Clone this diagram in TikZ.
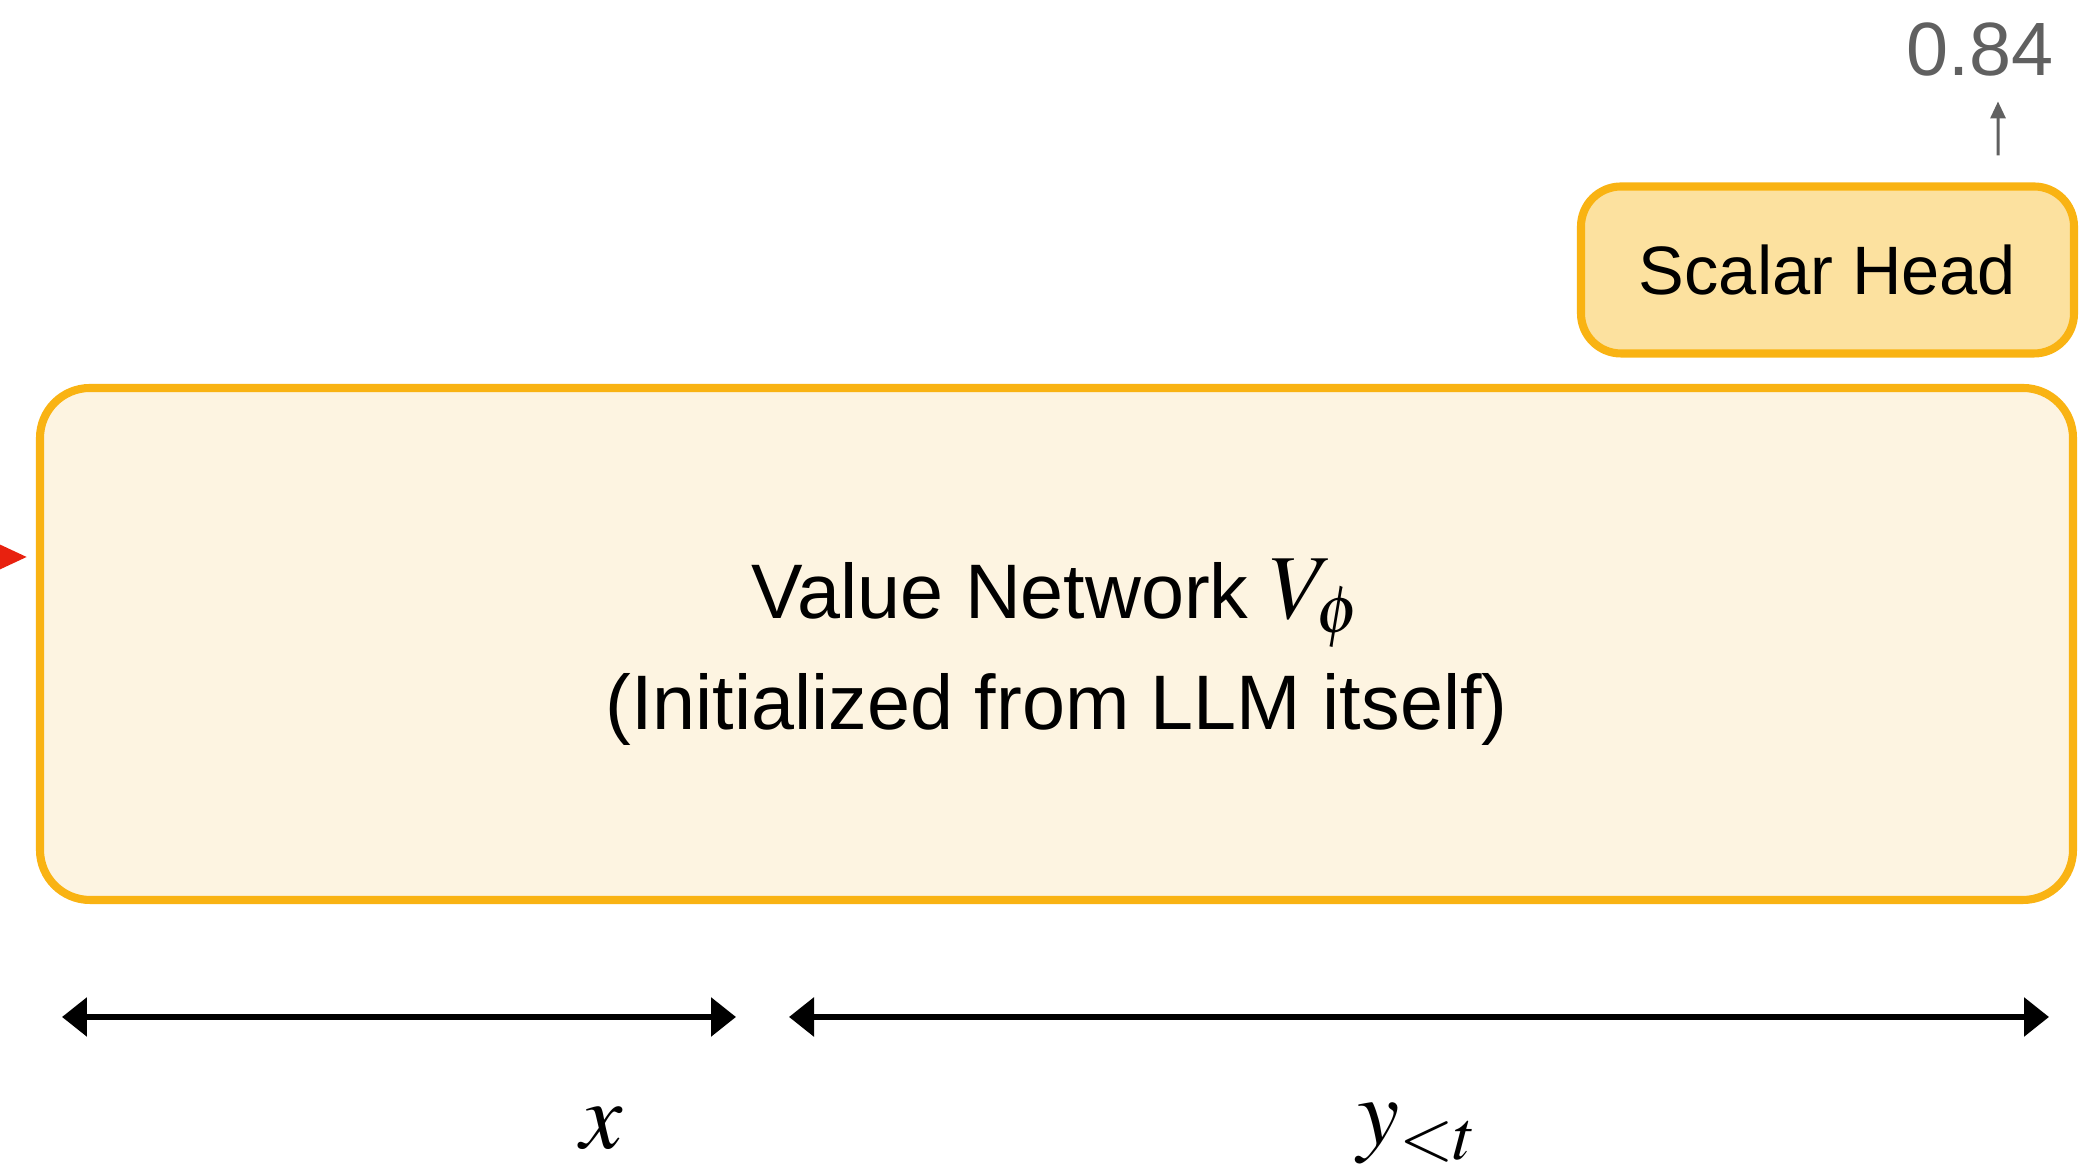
\documentclass[tikz,border=0pt]{standalone}
\usepackage{mathptmx}
\usepackage{fontspec}
\setmainfont{Liberation Sans}
\usepackage{xcolor}
\usetikzlibrary{positioning,arrows.meta}
\definecolor{amber}{HTML}{F9B313}
\definecolor{cream}{HTML}{FDF4E1}
\definecolor{wheat}{HTML}{FCE19F}
\definecolor{slate}{HTML}{606060}
\definecolor{signal}{HTML}{E8210F}
\tikzset{
  netbox/.style={draw=amber, fill=cream, line width=2.3pt, rounded corners=0.5cm},
  nettext/.style={align=center, font=\fontsize{22}{31.6}\selectfont},
  headbox/.style={draw=amber, fill=wheat, line width=2.3pt, rounded corners=0.4cm, font=\fontsize{19.5}{24}\selectfont},
  spanarrow/.style={{Triangle[length=2.5mm,width=3.8mm]}-{Triangle[length=2.5mm,width=3.8mm]}, black, line width=1.7pt},
  seglbl/.style={font=\fontsize{27}{32}\selectfont, inner sep=0pt, anchor=base},
}

\begin{document}
\begin{tikzpicture}
\useasboundingbox (0,0) rectangle (20.8,11.73);
\node[netbox, minimum width=20.33cm, minimum height=5.12cm] (valnet) at (10.565,5.29) {};
\node[nettext] (vntext) at ([yshift=-0.08cm]valnet.center) {Value Network {\fontsize{26}{31.6}\selectfont$V_\phi$}\\(Initialized from LLM itself)};
\node[headbox, minimum width=4.93cm, minimum height=1.67cm] (head) at (18.275,9.03) {Scalar Head};
\node[text=slate, font=\fontsize{21.5}{24}\selectfont, inner sep=0pt, anchor=base] (score) at (19.80,10.97) {0.84};
\draw[-{Triangle[length=1.7mm,width=1.5mm]}, slate, line width=0.85pt] ([xshift=1.705cm,yshift=0.27cm]head.north) -- ([xshift=0.18cm,yshift=-0.24cm]score.south);
% input arriving from the left
\coordinate (feed) at (-1,6.16);
\draw[-{Triangle[length=3.2mm,width=2.8mm]}, signal, line width=1.5pt, shorten >=0.09cm] (feed) -- (feed -| valnet.west);
% spans of the input
\coordinate (xl) at (0.62,1.56);
\coordinate (xr) at (7.36,1.56);
\coordinate (yl) at (7.89,1.56);
\coordinate (yr) at (20.49,1.56);
\draw[spanarrow] (xl) -- (xr);
\draw[spanarrow] (yl) -- (yr);
\node[seglbl] (xlbl) at (6.02,0.24) {$x$};
\node[seglbl] (ylbl) at (14.175,0.28) {$y_{<t}$};
\end{tikzpicture}
\end{document}
